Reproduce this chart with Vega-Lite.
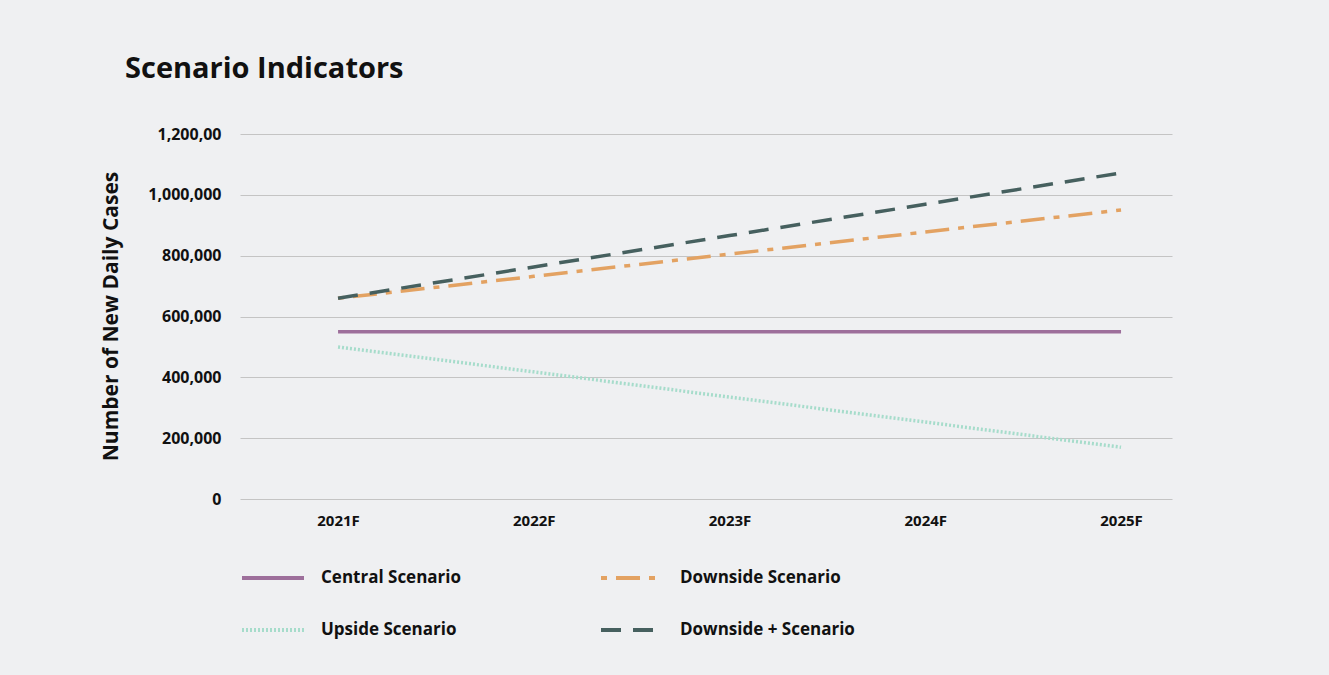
{
  "$schema": "https://vega.github.io/schema/vega-lite/v6.json",
  "width": 932,
  "height": 365,
  "autosize": "none",
  "padding": {"left": 240, "top": 134, "right": 157, "bottom": 176},
  "background": "#eff0f2",
  "title": {
    "text": "Scenario Indicators",
    "anchor": "start",
    "frame": "group",
    "dx": -115,
    "offset": 42,
    "font": "Open Sans",
    "fontSize": 29,
    "fontWeight": "bold",
    "color": "#111111"
  },
  "config": {
    "view": {"stroke": null},
    "font": "Open Sans"
  },
  "data": {
    "values": [
      {"year": "2021F", "scenario": "Central Scenario", "cases": 550000},
      {"year": "2022F", "scenario": "Central Scenario", "cases": 550000},
      {"year": "2023F", "scenario": "Central Scenario", "cases": 550000},
      {"year": "2024F", "scenario": "Central Scenario", "cases": 550000},
      {"year": "2025F", "scenario": "Central Scenario", "cases": 550000},
      {"year": "2021F", "scenario": "Downside Scenario", "cases": 660000},
      {"year": "2022F", "scenario": "Downside Scenario", "cases": 732000},
      {"year": "2023F", "scenario": "Downside Scenario", "cases": 805000},
      {"year": "2024F", "scenario": "Downside Scenario", "cases": 878000},
      {"year": "2025F", "scenario": "Downside Scenario", "cases": 950000},
      {"year": "2021F", "scenario": "Upside Scenario", "cases": 500000},
      {"year": "2022F", "scenario": "Upside Scenario", "cases": 418000},
      {"year": "2023F", "scenario": "Upside Scenario", "cases": 335000},
      {"year": "2024F", "scenario": "Upside Scenario", "cases": 253000},
      {"year": "2025F", "scenario": "Upside Scenario", "cases": 170000},
      {"year": "2021F", "scenario": "Downside + Scenario", "cases": 660000},
      {"year": "2022F", "scenario": "Downside + Scenario", "cases": 763000},
      {"year": "2023F", "scenario": "Downside + Scenario", "cases": 866000},
      {"year": "2024F", "scenario": "Downside + Scenario", "cases": 969000},
      {"year": "2025F", "scenario": "Downside + Scenario", "cases": 1072000}
    ]
  },
  "mark": {"type": "line", "strokeWidth": 3.5, "strokeCap": "butt"},
  "encoding": {
    "x": {
      "field": "year",
      "type": "ordinal",
      "scale": {"type": "point", "padding": 0.3806, "align": 0.658},
      "axis": {
        "title": null,
        "domain": false,
        "ticks": false,
        "grid": false,
        "labelAngle": 0,
        "labelPadding": 14,
        "labelFont": "Open Sans",
        "labelFontSize": 15,
        "labelFontWeight": "bold",
        "labelColor": "#111111"
      }
    },
    "y": {
      "field": "cases",
      "type": "quantitative",
      "scale": {"domain": [0, 1200000], "nice": false},
      "axis": {
        "title": "Number of New Daily Cases",
        "values": [0, 200000, 400000, 600000, 800000, 1000000, 1200000],
        "labelExpr": "datum.value == 1200000 ? '1,200,00' : format(datum.value, ',')",
        "domain": false,
        "ticks": false,
        "grid": true,
        "gridColor": "#c4c4c4",
        "gridWidth": 1.2,
        "labelPadding": 19,
        "labelFont": "Open Sans",
        "labelFontSize": 16,
        "labelFontWeight": "bold",
        "labelColor": "#111111",
        "titleFont": "Open Sans",
        "titleFontSize": 21,
        "titleFontWeight": "bold",
        "titleColor": "#111111",
        "titleX": -123,
        "titleY": 182,
        "titleBaseline": "alphabetic",
        "titleAngle": -90
      }
    },
    "color": {
      "field": "scenario",
      "type": "nominal",
      "scale": {
        "domain": ["Central Scenario", "Upside Scenario", "Downside Scenario", "Downside + Scenario"],
        "range": ["#9d6f9b", "#a6dccb", "#e3a262", "#46605f"]
      },
      "legend": {
        "title": null,
        "orient": "none",
        "legendX": 0,
        "legendY": 411,
        "columns": 2,
        "symbolType": "stroke",
        "symbolSize": 3844,
        "symbolStrokeWidth": 4,
        "labelOffset": 15,
        "labelFont": "Open Sans",
        "labelFontSize": 17,
        "labelFontWeight": "bold",
        "labelColor": "#111111",
        "labelLimit": 300,
        "columnPadding": 131,
        "rowPadding": 11
      }
    },
    "strokeDash": {
      "field": "scenario",
      "type": "nominal",
      "scale": {
        "domain": ["Central Scenario", "Upside Scenario", "Downside Scenario", "Downside + Scenario"],
        "range": [[1, 0], [2, 2], [6, 9, 24, 9], [20, 12]]
      },
      "legend": null
    }
  }
}
